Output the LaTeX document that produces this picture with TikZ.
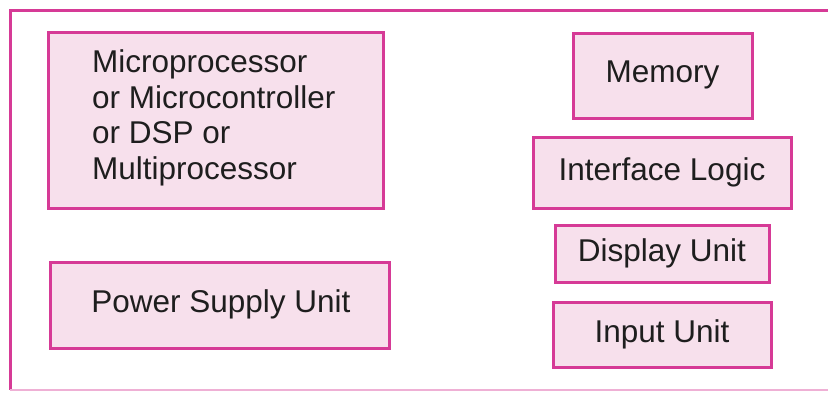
\documentclass[tikz,border=0pt]{standalone}
\usepackage{fontspec}
\setmainfont{Liberation Sans}
\definecolor{mag}{RGB}{214,58,150}
\definecolor{pinkfill}{RGB}{247,224,236}
\definecolor{txt}{RGB}{30,30,30}
\tikzset{
  unitbox/.style={draw=mag, line width=3pt, fill=pinkfill},
  lbl/.style={font=\fontsize{31.5}{35.5}\selectfont, text=txt, inner sep=0pt},
}
\begin{document}
\begin{tikzpicture}[x=1pt,y=-1pt]
\useasboundingbox (0,0) rectangle (828,392);
\fill[white] (0,0) rectangle (828,392);
% outer frame
\draw[mag, line width=3pt] (840,10) -- (10,10) -- (10,390);
\draw[mag!40, line width=2pt] (10,390) -- (840,390);
% boxes
\draw[unitbox] (48,32) rectangle (383,208);
\node[lbl, anchor=west, align=left] (mp) at (92,118) {Microprocessor\\or Microcontroller\\or DSP or\\Multiprocessor};
\draw[unitbox] (50,262) rectangle (389,348);
\node[lbl] (ps) at (221,304) {Power Supply Unit};
\draw[unitbox] (573,33) rectangle (752,118);
\node[lbl] (mem) at (662.5,75) {Memory};
\draw[unitbox] (533,137) rectangle (791,208);
\node[lbl] (il) at (662,172) {Interface Logic};
\draw[unitbox] (555,225) rectangle (769,282);
\node[lbl] (du) at (662,253) {Display Unit};
\draw[unitbox] (553,302) rectangle (771,367);
\node[lbl] (iu) at (662,334) {Input Unit};
\end{tikzpicture}
\end{document}
